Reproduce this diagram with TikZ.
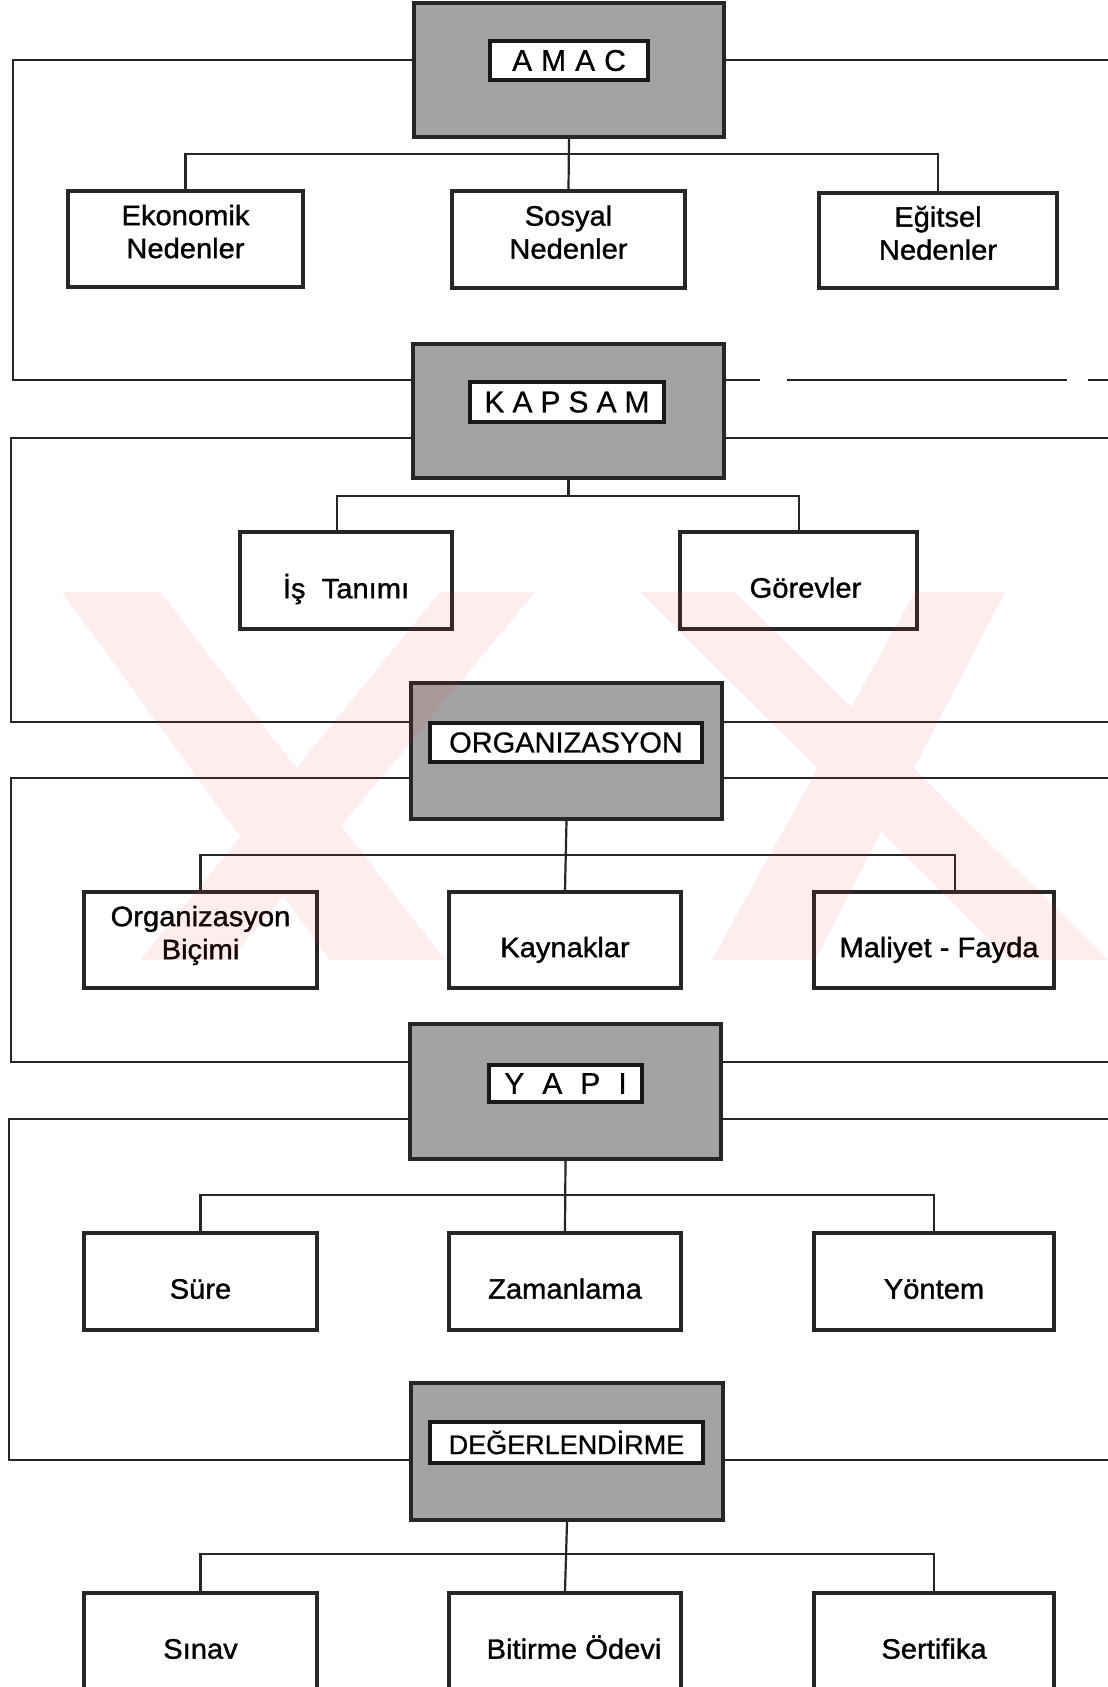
\documentclass[tikz,border=0pt]{standalone}
\usepackage{fontspec}
\setmainfont{Liberation Sans}
\newfontfamily\kidfont[FakeStretch=1.04,FakeBold=1.2]{Liberation Sans}
\newfontfamily\labfont[FakeBold=0.7]{Liberation Sans}
\newcommand\two[2]{\raisebox{4pt}[\height][\depth]{\begin{tabular}{@{}c@{}}#1\\#2\end{tabular}}}
\newcommand\one[1]{\raisebox{-10.5pt}[\height][\depth]{\begin{tabular}{@{}c@{}}#1\end{tabular}}}
\begin{document}
\begin{tikzpicture}[x=1pt,y=-1pt,
  mainbox/.style={draw=black!85, line width=4pt, fill=gray!72, inner sep=0pt},
  labbox/.style={draw=black!90, line width=3.5pt, fill=white, inner sep=0pt},
  kidbox/.style={draw=black!85, line width=3.6pt, fill=white, inner sep=0pt, align=center, font=\kidfont\fontsize{28}{33}\selectfont},
  conn/.style={line width=2.2pt, draw=black!85},
  wm/.style={fill={rgb,255:red,240;green,60;blue,80}, opacity=0.09}]
\useasboundingbox (0,0) rectangle (1108,1687);
\clip (0,0) rectangle (1108,1687);
\fill[white] (0,0) rectangle (1108,1687);

% main boxes
\node[mainbox, minimum width=310pt, minimum height=134pt] (amac) at (569,70) {};
\node[labbox, minimum width=158pt, minimum height=39pt, font=\labfont\fontsize{30}{32}\selectfont] (amacL) at (569,60.5) {A\hspace{9pt}M\hspace{9pt}A\hspace{9pt}C};
\node[mainbox, minimum width=311pt, minimum height=134pt] (kap) at (568.5,411) {};
\node[labbox, minimum width=194pt, minimum height=40pt, font=\labfont\fontsize{30}{32}\selectfont] (kapL) at (567,402) {K\hspace{8pt}A\hspace{8pt}P\hspace{8pt}S\hspace{8pt}A\hspace{8pt}M};
\node[mainbox, minimum width=311pt, minimum height=136pt] (org) at (566.5,751) {};
\node[labbox, minimum width=272pt, minimum height=39pt, font=\labfont\fontsize{29}{32}\selectfont] (orgL) at (566,742.5) {ORGANIZASYON};
\node[mainbox, minimum width=311pt, minimum height=135pt] (yapi) at (565.5,1091.5) {};
\node[labbox, minimum width=153pt, minimum height=37pt, font=\labfont\fontsize{30}{32}\selectfont] (yapiL) at (565.5,1083.5) {Y\hspace{18pt}A\hspace{18pt}P\hspace{18pt}I};
\node[mainbox, minimum width=312pt, minimum height=137pt] (deg) at (567,1451.5) {};
\node[labbox, minimum width=273pt, minimum height=41pt, font=\labfont\fontsize{27}{30}\selectfont] (degL) at (566.5,1442.5) {DEĞERLENDİRME};

% children
\node[kidbox, minimum width=235pt, minimum height=96pt] (eko) at (185.5,239) {\two{Ekonomik}{Nedenler}};
\node[kidbox, minimum width=233pt, minimum height=97pt] (sos) at (568.5,239.5) {\two{Sosyal}{Nedenler}};
\node[kidbox, minimum width=238pt, minimum height=95pt] (egi) at (938,240.5) {\two{Eğitsel}{Nedenler}};
\node[kidbox, minimum width=212pt, minimum height=97pt] (is) at (346,580.5) {\one{İş\ \ Tanımı}};
\node[kidbox, minimum width=237pt, minimum height=97pt] (gor) at (798.5,580.5) {\one{\hspace{14pt}Görevler}};
\node[kidbox, minimum width=233pt, minimum height=96pt] (bic) at (200.5,940) {\two{Organizasyon}{Biçimi}};
\node[kidbox, minimum width=232pt, minimum height=96pt] (kay) at (565,940) {\one{Kaynaklar}};
\node[kidbox, minimum width=240pt, minimum height=96pt] (mal) at (934,940) {\one{\hspace{10pt}Maliyet - Fayda}};
\node[kidbox, minimum width=233pt, minimum height=97pt] (sure) at (200.5,1281.5) {\one{Süre}};
\node[kidbox, minimum width=232pt, minimum height=97pt] (zam) at (565,1281.5) {\one{Zamanlama}};
\node[kidbox, minimum width=240pt, minimum height=97pt] (yon) at (934,1281.5) {\one{Yöntem}};
\node[kidbox, minimum width=233pt, minimum height=97pt] (sin) at (200.5,1641.5) {\one{Sınav}};
\node[kidbox, minimum width=232pt, minimum height=97pt] (bit) at (565,1641.5) {\one{\hspace{18pt}Bitirme Ödevi}};
\node[kidbox, minimum width=240pt, minimum height=97pt] (ser) at (934,1641.5) {\one{Sertifika}};

% tree connectors
\draw[conn] (amac.south) -- (sos.north);
\draw[conn] (eko.north) -- (eko.north|-0,154) -- (egi.north|-0,154) -- (egi.north);
\draw[conn] (kap.south) -- (kap.south|-0,496);
\draw[conn] (is.north-|337,0) -- (337,496) -- (799,496) -- (gor.north-|799,0);
\draw[conn] (org.south) -- (kay.north);
\draw[conn] (bic.north) -- (bic.north|-0,855) -- (955,855) -- (mal.north-|955,0);
\draw[conn] (yapi.south) -- (zam.north);
\draw[conn] (sure.north) -- (sure.north|-0,1195) -- (yon.north|-0,1195) -- (yon.north);
\draw[conn] (deg.south) -- (bit.north);
\draw[conn] (sin.north) -- (sin.north|-0,1554) -- (ser.north|-0,1554) -- (ser.north);

% left loops
\draw[conn] (amac.west|-0,60) -| (13,380) -- (kap.west|-0,380);
\draw[conn] (kap.west|-0,438) -| (11,722) -- (org.west|-0,722);
\draw[conn] (org.west|-0,778) -| (11,1062) -- (yapi.west|-0,1062);
\draw[conn] (yapi.west|-0,1119) -| (9,1460) -- (deg.west|-0,1460);

% right lines
\draw[conn] (amac.east|-0,60) -- (1108,60);
\draw[conn, dash pattern=on 34pt off 27pt on 280pt off 21pt on 60pt] (kap.east|-0,380) -- (1108,380);
\draw[conn] (kap.east|-0,438) -- (1108,438);
\draw[conn] (org.east|-0,722) -- (1108,722);
\draw[conn] (org.east|-0,778) -- (1108,778);
\draw[conn] (yapi.east|-0,1062) -- (1108,1062);
\draw[conn] (yapi.east|-0,1119) -- (1108,1119);
\draw[conn] (deg.east|-0,1460) -- (1108,1460);

% watermark (one path, overlaps filled once)
\fill[wm] (62,592) -- (160,592) -- (445,960) -- (330,960) -- cycle
          (440,592) -- (535,592) -- (230,960) -- (140,960) -- cycle
          (640,592) -- (735,592) -- (1108,960) -- (1010,960) -- cycle
          (915,592) -- (1005,592) -- (815,960) -- (712,960) -- cycle;
\end{tikzpicture}
\end{document}
